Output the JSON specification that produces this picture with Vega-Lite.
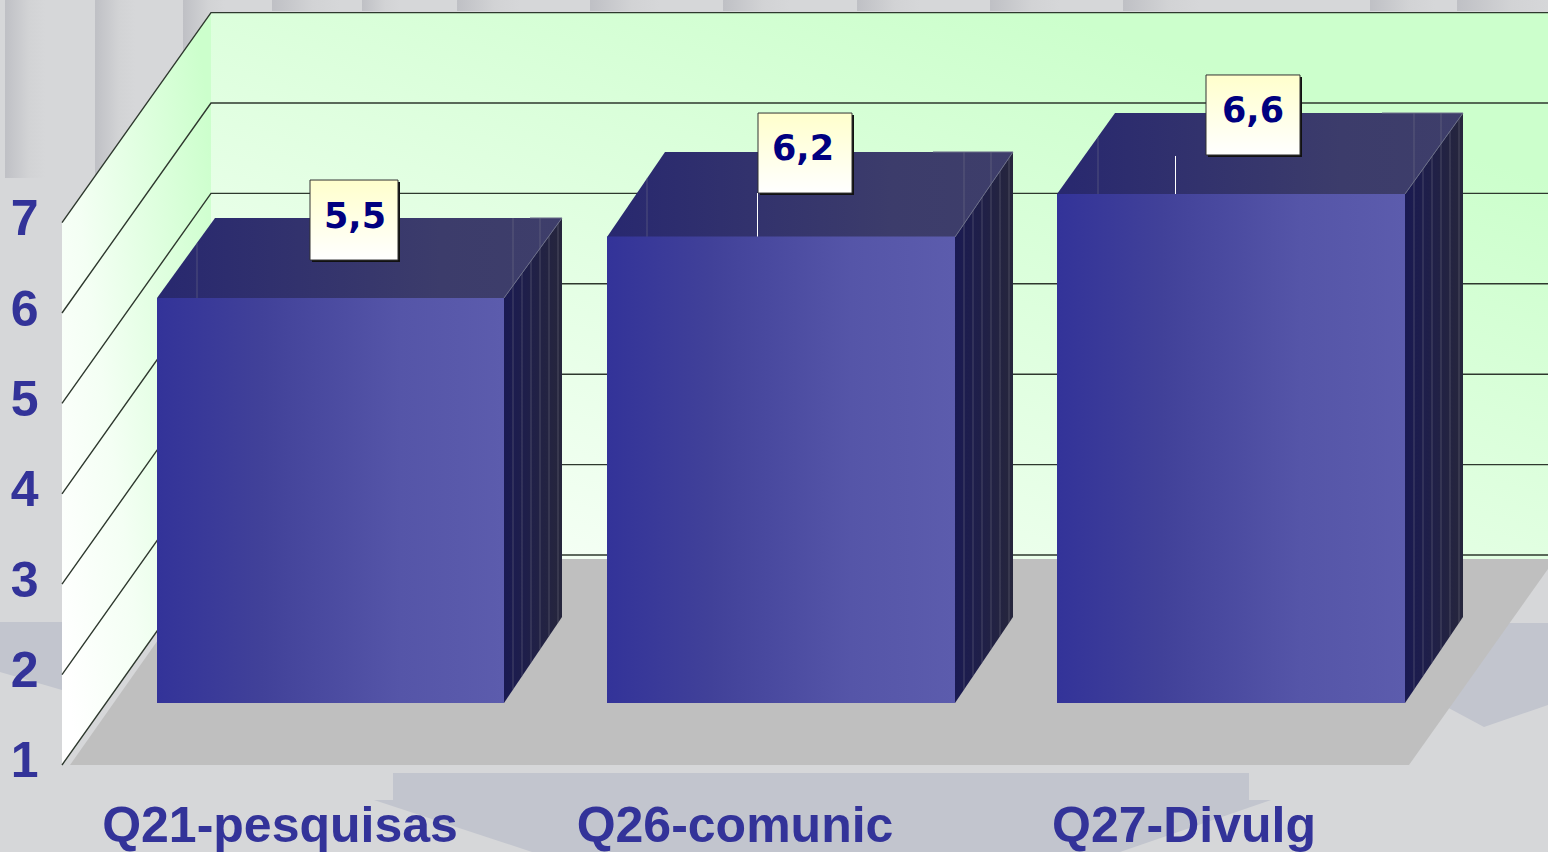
{
"$schema":"https://vega.github.io/schema/vega-lite/v6.json",
"width":1548,"height":852,"padding":0,"autosize":{"type":"none"},
"background":"#d6d7d9",
"config":{"view":{"stroke":null},"axisY":{"title":null,"domain":false,"ticks":false,"grid":false,"labelPadding":-38,"labelOffset":-3,"labelFont":"Liberation Sans","labelFontWeight":"bold","labelFontSize":50,"labelColor":"#333399","labelAlign":"right","labelBaseline":"middle"}},
"datasets":{
"columns":[
{"x0":5,"x1":45,"top":9.462,"bot":7.493},{"x0":95,"x1":135,"top":9.462,"bot":7.0},{"x0":183,"x1":225,"top":9.462,"bot":8.5},
{"x0":272,"x1":340,"top":9.462,"bot":9.341},{"x0":362,"x1":400,"top":9.462,"bot":9.341},{"x0":457,"x1":520,"top":9.462,"bot":9.341},
{"x0":590,"x1":660,"top":9.462,"bot":9.341},{"x0":723,"x1":790,"top":9.462,"bot":9.341},{"x0":857,"x1":920,"top":9.462,"bot":9.341},
{"x0":990,"x1":1060,"top":9.462,"bot":9.341},{"x0":1123,"x1":1200,"top":9.462,"bot":9.341},{"x0":1370,"x1":1435,"top":9.462,"bot":9.341},
{"x0":1457,"x1":1548,"top":9.462,"bot":9.341}
],
"backdrop":[
{"s":"left","x":0,"a":2.582,"b":2.029},{"s":"left","x":62,"a":2.582,"b":1.83},
{"s":"right","x":1443,"a":2.571,"b":1.664},{"s":"right","x":1484,"a":2.571,"b":1.42},{"s":"right","x":1548,"a":2.571,"b":1.664},
{"s":"bottom","x":374,"a":0.613,"b":0.613},{"s":"bottom","x":532,"a":0.613,"b":0.038},{"s":"bottom","x":1120,"a":0.613,"b":0.038},{"s":"bottom","x":1271,"a":0.613,"b":0.613}
],
"grid":[
{"g":1,"x":62,"y":1},{"g":1,"x":211,"y":3.323},{"g":1,"x":1548,"y":3.323},
{"g":2,"x":62,"y":2},{"g":2,"x":211,"y":4.323},{"g":2,"x":1548,"y":4.323},
{"g":3,"x":62,"y":3},{"g":3,"x":211,"y":5.323},{"g":3,"x":1548,"y":5.323},
{"g":4,"x":62,"y":4},{"g":4,"x":211,"y":6.323},{"g":4,"x":1548,"y":6.323},
{"g":5,"x":62,"y":5},{"g":5,"x":211,"y":7.323},{"g":5,"x":1548,"y":7.323},
{"g":6,"x":62,"y":6},{"g":6,"x":211,"y":8.323},{"g":6,"x":1548,"y":8.323},
{"g":7,"x":62,"y":7},{"g":7,"x":211,"y":9.323},{"g":7,"x":1548,"y":9.323}
],
"bars":[
{"q":"Q21-pesquisas","value":5.48,"x0":157,"x1":504,"tx":280,"ty":0.148},
{"q":"Q26-comunic","value":6.16,"x0":607,"x1":955,"tx":735,"ty":0.148},
{"q":"Q27-Divulg","value":6.63,"x0":1057,"x1":1405,"tx":1184,"ty":0.148}
],
"top":[
{"b":1,"x":157,"a":6.166,"c":6.166},{"b":1,"x":215,"a":7.051,"c":6.166},{"b":1,"x":504,"a":7.051,"c":6.166},{"b":1,"x":562,"a":7.051,"c":7.051},
{"b":2,"x":607,"a":6.841,"c":6.841},{"b":2,"x":665,"a":7.781,"c":6.841},{"b":2,"x":955,"a":7.781,"c":6.841},{"b":2,"x":1013,"a":7.781,"c":7.781},
{"b":3,"x":1057,"a":7.316,"c":7.316},{"b":3,"x":1115,"a":8.212,"c":7.316},{"b":3,"x":1405,"a":8.212,"c":7.316},{"b":3,"x":1463,"a":8.212,"c":8.212}
],
"side":[
{"b":1,"x":504,"a":6.166,"c":1.686},{"b":1,"x":562,"a":7.051,"c":2.637},
{"b":2,"x":955,"a":6.841,"c":1.686},{"b":2,"x":1013,"a":7.781,"c":2.637},
{"b":3,"x":1405,"a":7.316,"c":1.686},{"b":3,"x":1463,"a":8.212,"c":2.637}
],
"ribs":[
{"x":513,"a":6.303,"c":1.833},{"x":522,"a":6.44,"c":1.981},{"x":531,"a":6.577,"c":2.128},{"x":540,"a":6.715,"c":2.277},{"x":549,"a":6.852,"c":2.424},{"x":558,"a":6.989,"c":2.572},
{"x":964,"a":6.987,"c":1.833},{"x":973,"a":7.133,"c":1.981},{"x":982,"a":7.279,"c":2.128},{"x":991,"a":7.425,"c":2.277},{"x":1000,"a":7.571,"c":2.424},{"x":1009,"a":7.717,"c":2.572},
{"x":1414,"a":7.456,"c":1.833},{"x":1423,"a":7.594,"c":1.981},{"x":1432,"a":7.733,"c":2.128},{"x":1441,"a":7.873,"c":2.277},{"x":1450,"a":8.012,"c":2.424},{"x":1459,"a":8.15,"c":2.572},
{"x":513,"a":7.051,"c":6.303},{"x":540,"a":7.051,"c":6.715},{"x":197,"a":6.774,"c":6.166},
{"x":964,"a":7.781,"c":6.987},{"x":991,"a":7.781,"c":7.425},{"x":647,"a":7.493,"c":6.841},
{"x":1414,"a":8.212,"c":7.456},{"x":1441,"a":8.212,"c":7.873},{"x":1098,"a":7.947,"c":7.316}
],
"whiteRibs":[{"x":757.5,"a":7.327,"c":6.841},{"x":1175.5,"a":7.737,"c":7.316}],
"edges":[
{"b":1,"x":504,"y":6.166},{"b":1,"x":562,"y":7.051},{"b":1,"x":530,"y":7.051},
{"b":2,"x":955,"y":6.841},{"b":2,"x":1013,"y":7.781},{"b":2,"x":933,"y":7.781},
{"b":3,"x":1405,"y":7.316},{"b":3,"x":1463,"y":8.212},{"b":3,"x":1382,"y":8.212}
],
"labels":[
{"label":"5,5","x0":310,"x1":398,"a":7.471,"c":6.586,"tx":355,"ty":7.062},
{"label":"6,2","x0":758,"x1":852,"a":8.212,"c":7.327,"tx":803,"ty":7.814},
{"label":"6,6","x0":1206,"x1":1300,"a":8.633,"c":7.748,"tx":1253,"ty":8.235}
]
},
"layer":[
{"data":{"name":"columns"},"mark":{"type":"rect","color":{"gradient":"linear","x1":0,"x2":1,"y1":0,"y2":0,"stops":[{"offset":0,"color":"#bfc0c5"},{"offset":0.6,"color":"#d2d3d5"},{"offset":1,"color":"#d6d7d9"}]}},
 "encoding":{"x":{"field":"x0","type":"quantitative","scale":{"domain":[0,1548],"range":[0,1548],"nice":false,"zero":false},"axis":null},"x2":{"field":"x1"},
 "y":{"field":"top","type":"quantitative","title":null,"scale":{"domain":[0.0376,9.4624],"nice":false,"zero":false},
  "axis":{"values":[1,2,3,4,5,6,7],"format":"d","zindex":1}},"y2":{"field":"bot"}}},
{"data":{"name":"backdrop"},"mark":{"type":"area","color":"#c2c5ce"},
 "encoding":{"detail":{"field":"s"},"x":{"field":"x","type":"quantitative","axis":null},"y":{"field":"a","type":"quantitative","title":null},"y2":{"field":"b"}}},
{"data":{"values":[{"x0":393,"x1":1249,"a":0.912,"c":0.613}]},"mark":{"type":"rect","color":"#c2c5ce"},
 "encoding":{"x":{"field":"x0","type":"quantitative","axis":null},"x2":{"field":"x1"},"y":{"field":"a","type":"quantitative","title":null},"y2":{"field":"c"}}},
{"data":{"values":[{"x":62,"a":7,"c":1},{"x":211,"a":9.323,"c":3.323}]},"mark":{"type":"area","color":{"gradient":"linear","x1":0,"y1":0.85,"x2":1,"y2":0.15,"stops":[{"offset":0,"color":"#ffffff"},{"offset":0.35,"color":"#f4fff4"},{"offset":1,"color":"#ccffcc"}]}},
 "encoding":{"x":{"field":"x","type":"quantitative","axis":null},"y":{"field":"a","type":"quantitative","title":null},"y2":{"field":"c"}}},
{"data":{"values":[{"x0":211,"x1":1548,"a":9.323,"c":3.279}]},"mark":{"type":"rect","color":{"gradient":"linear","x1":0,"y1":1,"x2":0.75,"y2":0.1,"stops":[{"offset":0,"color":"#fbfffb"},{"offset":1,"color":"#ccffcc"}]}},
 "encoding":{"x":{"field":"x0","type":"quantitative","axis":null},"x2":{"field":"x1"},"y":{"field":"a","type":"quantitative","title":null},"y2":{"field":"c"}}},
{"data":{"values":[{"x":70,"a":1,"c":1},{"x":215,"a":3.279,"c":1},{"x":1409,"a":3.279,"c":1},{"x":1548,"a":3.279,"c":3.168}]},"mark":{"type":"area","color":"#bfbfbf"},
 "encoding":{"x":{"field":"x","type":"quantitative","axis":null},"y":{"field":"a","type":"quantitative","title":null},"y2":{"field":"c"}}},
{"data":{"name":"grid"},"mark":{"type":"line","color":"#2e382e","strokeWidth":1.4},
 "encoding":{"detail":{"field":"g"},"x":{"field":"x","type":"quantitative","axis":null},"y":{"field":"y","type":"quantitative","title":null}}},
{"data":{"name":"top"},"mark":{"type":"area","color":{"gradient":"linear","x1":0,"x2":1,"y1":0,"y2":0,"stops":[{"offset":0,"color":"#28286f"},{"offset":0.7,"color":"#3c3c6b"},{"offset":1,"color":"#3e3e6a"}]}},
 "encoding":{"detail":{"field":"b"},"x":{"field":"x","type":"quantitative","axis":null},"y":{"field":"a","type":"quantitative","title":null},"y2":{"field":"c"}}},
{"data":{"name":"side"},"mark":{"type":"area","color":{"gradient":"linear","x1":0,"x2":1,"y1":0,"y2":0,"stops":[{"offset":0,"color":"#1a1a52"},{"offset":1,"color":"#26263c"}]}},
 "encoding":{"detail":{"field":"b"},"x":{"field":"x","type":"quantitative","axis":null},"y":{"field":"a","type":"quantitative","title":null},"y2":{"field":"c"}}},
{"data":{"name":"ribs"},"mark":{"type":"rule","color":"#80828f","opacity":0.42,"strokeWidth":1},
 "encoding":{"x":{"field":"x","type":"quantitative","axis":null},"y":{"field":"a","type":"quantitative","title":null},"y2":{"field":"c"}}},
{"data":{"name":"whiteRibs"},"mark":{"type":"rule","color":"#ffffff","strokeWidth":1},
 "encoding":{"x":{"field":"x","type":"quantitative","axis":null},"y":{"field":"a","type":"quantitative","title":null},"y2":{"field":"c"}}},
{"data":{"name":"edges"},"mark":{"type":"line","color":"#6a6c88","strokeWidth":1},
 "encoding":{"detail":{"field":"b"},"order":{"field":"b"},"x":{"field":"x","type":"quantitative","axis":null},"y":{"field":"y","type":"quantitative","title":null}}},
{"data":{"name":"bars"},"mark":{"type":"rect","yOffset":-62,"y2Offset":-62,"color":{"gradient":"linear","x1":0,"x2":1,"y1":0,"y2":0,"stops":[{"offset":0,"color":"#333399"},{"offset":0.3,"color":"#414199"},{"offset":0.7,"color":"#5555a8"},{"offset":1,"color":"#5c5cad"}]}},
 "encoding":{"x":{"field":"x0","type":"quantitative","axis":null},"x2":{"field":"x1"},"y":{"field":"value","type":"quantitative","title":null},"y2":{"datum":1}}},
{"data":{"name":"labels"},"mark":{"type":"rect","color":"#111111","xOffset":2,"x2Offset":2,"yOffset":2,"y2Offset":2},
 "encoding":{"x":{"field":"x0","type":"quantitative","axis":null},"x2":{"field":"x1"},"y":{"field":"a","type":"quantitative","title":null},"y2":{"field":"c"}}},
{"data":{"name":"labels"},"mark":{"type":"rect","stroke":"#333333","strokeWidth":1,"fill":{"gradient":"linear","x1":0,"x2":0,"y1":0,"y2":1,"stops":[{"offset":0,"color":"#ffffcc"},{"offset":1,"color":"#ffffff"}]}},
 "encoding":{"x":{"field":"x0","type":"quantitative","axis":null},"x2":{"field":"x1"},"y":{"field":"a","type":"quantitative","title":null},"y2":{"field":"c"}}},
{"data":{"name":"labels"},"mark":{"type":"text","font":"DejaVu Sans","fontWeight":"bold","fontSize":35,"color":"#000080","align":"center","baseline":"middle"},
 "encoding":{"x":{"field":"tx","type":"quantitative","axis":null},"y":{"field":"ty","type":"quantitative","title":null},"text":{"field":"label"}}},
{"data":{"name":"bars"},"mark":{"type":"text","font":"Liberation Sans","fontWeight":"bold","fontSize":50,"color":"#333399","align":"center","baseline":"alphabetic"},
 "encoding":{"x":{"field":"tx","type":"quantitative","axis":null},"y":{"field":"ty","type":"quantitative","title":null},"text":{"field":"q"}}}
]
}
